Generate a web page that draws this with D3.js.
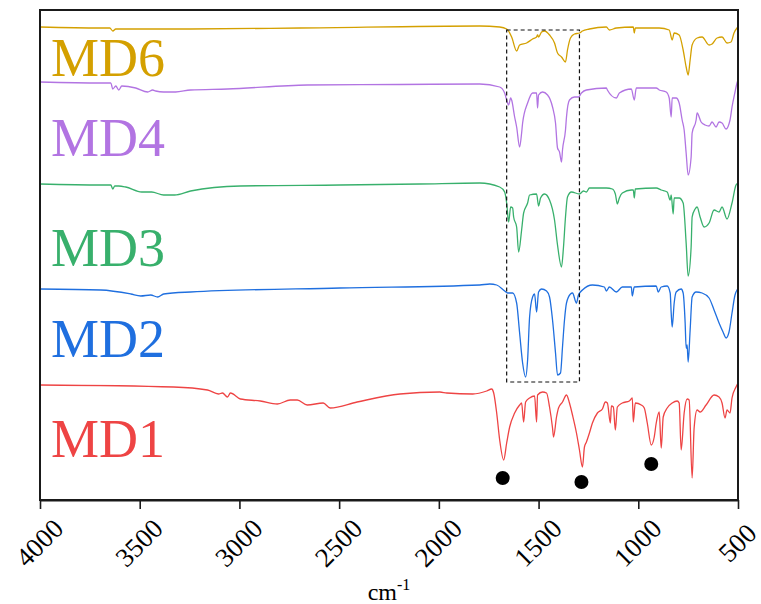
<!DOCTYPE html>
<html>
<head>
<meta charset="utf-8">
<script src="https://cdn.jsdelivr.net/npm/d3@7"></script>
<style>
  html, body { margin: 0; padding: 0; background: #fff; }
  svg { display: block; }
</style>
</head>
<body>
<svg id="chart" width="761" height="604"></svg>
<script>
// FTIR spectra, stacked with vertical offsets. Each point: [wavenumber (cm-1), transmittance (a.u., offset included)]
const seriesNames = ["MD1", "MD2", "MD3", "MD4", "MD6"];
const seriesColors = ["#ee4444", "#1f6fdf", "#38b06c", "#b274e2", "#d4a000"];

const md6 = [
  [4000,473],[3700,472],[3650,472],[3635,469],[3620,471],[3245,471],[2695,472],[1795,474],[1695,473],
  [1660,471],[1635,463],[1610,449],[1595,455],[1560,457],[1530,461],[1510,463],[1505,465],[1500,463],
  [1485,468],[1470,469],[1445,465],[1420,457],[1405,447],[1385,443],[1365,438],[1355,450],[1340,462],
  [1320,466],[1295,467],[1280,469],[1245,471],[1160,473],[1145,470],[1110,472],[1025,473],[1020,467],
  [1015,472],[895,472],[845,470],[830,460],[820,467],[795,465],[775,450],[760,433],[750,425],[740,440],
  [730,455],[705,462],[680,463],[645,455],[630,456],[605,462],[580,463],[555,457],[535,458],[520,467],
  [505,472],[500,473]
];

const md4 = [
  [4000,418],[3695,417],[3645,417],[3635,411],[3620,414],[3605,410],[3590,414],[3520,412],[3460,408],
  [3435,410],[3420,409],[3380,408],[3320,408],[3245,410],[3060,411],[2660,415],[2195,415.5],[1795,416],
  [1695,413],[1670,407],[1660,400],[1650,395],[1640,402],[1635,400],[1620,383],[1610,373],[1595,353],
  [1585,367],[1580,377],[1555,397],[1530,407],[1510,407],[1505,392],[1500,405],[1480,408],[1455,405],
  [1430,393],[1415,377],[1405,352],[1395,348],[1385,338],[1380,350],[1365,370],[1360,383],[1345,400],
  [1320,403],[1300,403],[1285,407],[1260,410],[1160,412],[1155,410],[1110,402],[1095,407],[1035,411],
  [1020,400],[1010,412],[910,412],[895,410],[860,408],[845,402],[835,383],[830,402],[810,402],[795,397],
  [780,380],[770,370],[760,347],[750,325],[735,343],[730,367],[710,380],[705,387],[685,378],[665,375],
  [645,374],[630,378],[610,373],[595,378],[580,377],[560,371],[540,380],[530,393],[515,408],[505,417],
  [500,420]
];

const md3 = [
  [4000,316],[3695,315],[3645,315],[3635,311],[3625,314],[3605,314],[3570,313],[3490,308],[3440,308],
  [3380,305],[3325,305],[3245,309],[2995,314],[2495,315],[2095,316],[1795,317],[1695,313],[1670,308],
  [1660,297],[1650,278],[1640,293],[1630,292],[1625,283],[1610,273],[1600,248],[1585,270],[1575,287],
  [1555,297],[1545,305],[1510,306],[1500,294],[1490,302],[1470,306],[1445,300],[1420,280],[1405,255],
  [1385,233],[1375,253],[1365,283],[1355,303],[1335,308],[1295,306],[1275,309],[1260,308],[1245,312],
  [1160,312],[1130,311],[1115,306],[1105,296],[1095,302],[1080,307],[1035,310],[1025,310],[1020,302],
  [1015,311],[910,312],[885,310],[855,308],[840,300],[835,305],[825,286],[820,302],[795,302],[775,297],
  [760,257],[750,224],[735,253],[730,283],[715,291],[705,293],[690,283],[670,273],[645,277],[620,290],
  [595,288],[580,293],[555,281],[530,297],[510,315],[500,317]
];

const md2 = [
  [4000,211],[3695,210],[3545,206],[3495,204],[3445,205],[3410,203],[3380,206],[3245,208],[2495,212],
  [1795,215],[1745,216],[1710,215],[1670,209],[1655,207],[1630,207],[1610,197],[1595,167],[1580,137],
  [1565,123],[1555,140],[1545,183],[1530,203],[1520,206],[1510,188],[1500,208],[1485,211],[1460,209],
  [1445,203],[1430,180],[1415,147],[1405,125],[1390,127],[1380,153],[1370,180],[1360,197],[1340,206],
  [1330,207],[1310,197],[1300,205],[1280,210],[1230,215],[1170,213],[1160,209],[1145,213],[1110,208],
  [1080,213],[1035,213],[1030,204],[1020,213],[910,214],[900,208],[885,213],[855,214],[840,207],
  [835,187],[830,173],[820,197],[810,208],[785,211],[775,207],[765,177],[760,152],[755,155],[750,138],
  [740,170],[730,203],[710,208],[680,207],[645,202],[620,190],[595,177],[575,168],[560,162],[545,168],
  [530,187],[515,205],[505,210],[500,211]
];

const md1 = [
  [4000,115],[3330,113],[3160,110],[3105,106],[3085,107],[3060,103],[3045,107],[2995,101],[2895,99],
  [2810,96],[2745,100],[2710,100],[2660,95],[2580,97],[2545,92],[2410,98],[2195,106],[1995,108],
  [1960,107],[1830,106],[1760,109],[1735,111],[1725,107],[1710,87],[1695,60],[1675,40],[1660,57],
  [1645,73],[1620,87],[1595,95],[1585,97],[1575,78],[1565,98],[1545,102],[1520,104],[1510,78],
  [1505,105],[1480,108],[1460,107],[1445,93],[1430,72],[1425,63],[1410,83],[1400,92],[1380,98],
  [1360,105],[1345,97],[1330,85],[1310,67],[1295,50],[1280,33],[1270,53],[1260,58],[1245,67],
  [1230,77],[1205,87],[1180,91],[1165,98],[1155,97],[1140,77],[1135,94],[1125,93],[1115,70],
  [1105,93],[1080,97],[1045,99],[1030,102],[1025,78],[1015,97],[985,95],[970,92],[955,77],[935,55],
  [920,63],[910,77],[895,88],[885,52],[875,83],[855,92],[830,97],[805,99],[795,97],[785,50],[770,87],
  [755,101],[745,100],[730,22],[720,72],[705,90],[690,88],[660,95],[620,105],[595,103],[580,97],
  [565,82],[555,90],[540,87],[530,102],[510,113],[500,117]
];

const seriesData = [md1, md2, md3, md4, md6];
// label baselines (same a.u. units as the spectra)
const labelLevels = [43, 143, 234, 344, 424];

// characteristic bands of MD1 marked with dots: [wavenumber, level]
const markedBands = [[1680, 22], [1285, 18], [935, 36]];
// highlighted region: [wn high, wn low, level top, level bottom]
const boxRegion = [1660, 1295, 470, 118];

const xTicks = [4000, 3500, 3000, 2500, 2000, 1500, 1000, 500];

const svg = d3.select("#chart");
const margin = { left: 40, right: 23, top: 10, bottom: 104 };
const W = 761, H = 604;
const serif = "Liberation Serif";

const x = d3.scaleLinear().domain([4000, 500]).range([margin.left, W - margin.right]);
const y = d3.scaleLinear().domain([0, 490]).range([H - margin.bottom, margin.top]);

const line = d3.line()
  .x(d => x(d[0]))
  .y(d => y(d[1]))
  .curve(d3.curveMonotoneX);

// spectra
svg.append("g").selectAll("path")
  .data(seriesData)
  .join("path")
  .attr("d", d => line(d))
  .attr("fill", "none")
  .attr("stroke", (d, i) => seriesColors[i])
  .attr("stroke-width", 1.3)
  .attr("stroke-linejoin", "round");

// highlighted region
svg.append("rect")
  .attr("x", x(boxRegion[0]))
  .attr("y", y(boxRegion[2]))
  .attr("width", x(boxRegion[1]) - x(boxRegion[0]))
  .attr("height", y(boxRegion[3]) - y(boxRegion[2]))
  .attr("fill", "none")
  .attr("stroke", "#111")
  .attr("stroke-width", 1.2)
  .attr("stroke-dasharray", "4,3");

// band markers
svg.append("g").selectAll("circle")
  .data(markedBands)
  .join("circle")
  .attr("cx", d => x(d[0]))
  .attr("cy", d => y(d[1]))
  .attr("r", 7)
  .attr("fill", "#000");

// series labels
svg.append("g").selectAll("text")
  .data(seriesNames)
  .join("text")
  .attr("x", 51)
  .attr("y", (d, i) => y(labelLevels[i]))
  .attr("fill", (d, i) => seriesColors[i])
  .attr("font-family", serif)
  .attr("font-size", 54)
  .text(d => d);

// frame
svg.append("rect")
  .attr("x", margin.left)
  .attr("y", margin.top)
  .attr("width", W - margin.right - margin.left)
  .attr("height", H - margin.bottom - margin.top)
  .attr("fill", "none")
  .attr("stroke", "#1a1a1a")
  .attr("stroke-width", 2);

// bottom axis
const xAxis = d3.axisBottom(x).tickValues(xTicks).tickSize(9).tickSizeOuter(0).tickFormat(d3.format("d"));
const gx = svg.append("g")
  .attr("transform", `translate(0,${H - margin.bottom})`)
  .call(xAxis)
  .attr("font-family", serif)
  .attr("font-size", 27);
gx.select(".domain").attr("stroke", "#1a1a1a").attr("stroke-width", 2);
gx.selectAll(".tick line").attr("stroke", "#1a1a1a").attr("stroke-width", 1.6);
gx.selectAll(".tick text")
  .attr("font-family", serif)
  .attr("font-size", 27)
  .attr("fill", "#000")
  .attr("text-anchor", "middle")
  .attr("dominant-baseline", "central")
  .attr("x", 0)
  .attr("y", 0)
  .attr("dy", null)
  .attr("transform", "translate(-1,43) rotate(-45)");

// axis title
const title = svg.append("text")
  .attr("x", (x(4000) + x(500)) / 2)
  .attr("y", 600)
  .attr("text-anchor", "middle")
  .attr("font-family", serif)
  .attr("font-size", 24)
  .attr("fill", "#000");
title.append("tspan").text("cm");
title.append("tspan").attr("font-size", 16).attr("dy", -10).text("-1");
</script>
</body>
</html>
